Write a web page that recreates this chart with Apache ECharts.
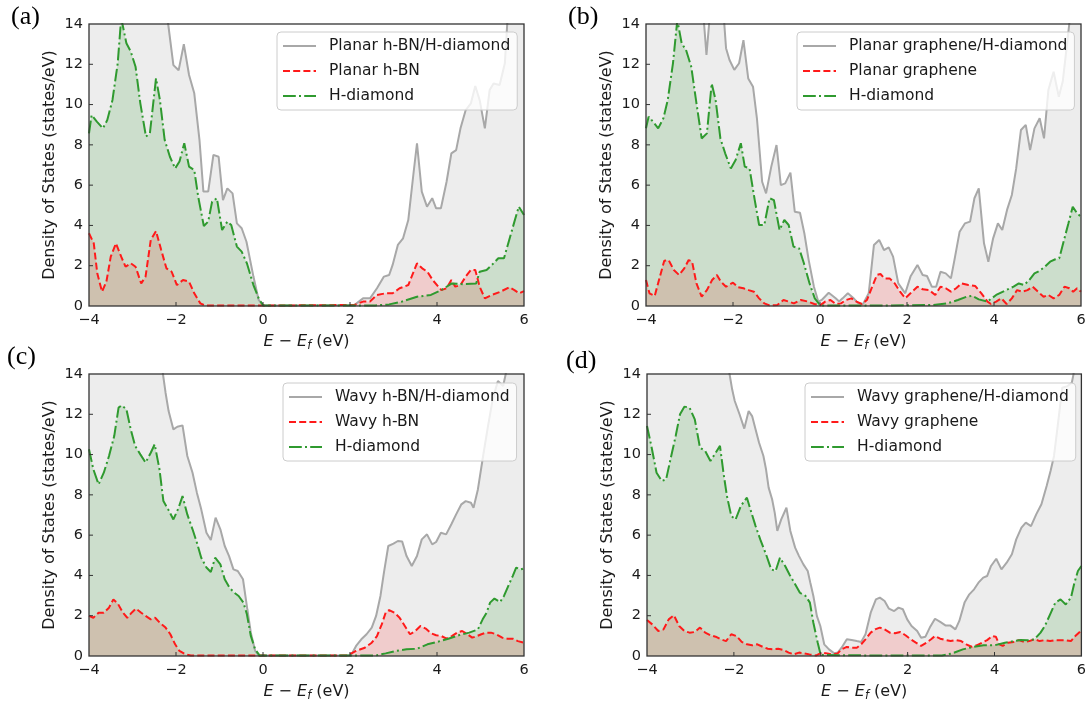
<!DOCTYPE html>
<html>
<head>
<meta charset="utf-8">
<title>Density of States</title>
<script src="https://cdn.jsdelivr.net/npm/echarts@6/dist/echarts.min.js"></script>
<style>
  html, body { margin: 0; padding: 0; background: #ffffff; }
  #wrap { position: relative; width: 1089px; height: 704px; }
  #chart { width: 1089px; height: 704px; }
  #frames { position: absolute; left: 0; top: 0; pointer-events: none; }
</style>
</head>
<body>
<div id="wrap">
  <div id="chart"></div>
  <svg id="frames" width="1089" height="704" xmlns="http://www.w3.org/2000/svg"></svg>
</div>
<script>
// Energy axis and DOS axis ticks
const energyTicks = [-4, -2, 0, 2, 4, 6];
const dosTicks = [0, 2, 4, 6, 8, 10, 12, 14];

// Panel labels and legend names
const panelLetters = ['(a)', '(b)', '(c)', '(d)'];
const totalNames = ['Planar h-BN/H-diamond', 'Planar graphene/H-diamond', 'Wavy h-BN/H-diamond', 'Wavy graphene/H-diamond'];
const layerNames = ['Planar h-BN', 'Planar graphene', 'Wavy h-BN', 'Wavy graphene'];
const diamondName = 'H-diamond';

// ---- (a) planar h-BN on H-diamond: [E - Ef (eV), DOS (states/eV)]
const aTotal = [[-4,17.5],[-3.6,19],[-3.2,21],[-2.8,19],[-2.4,16],[-2.18,14.0],[-2.06,11.96],[-1.94,11.7],[-1.82,13.0],[-1.70,11.47],[-1.58,10.56],[-1.46,8.24],[-1.37,5.68],[-1.26,5.68],[-1.14,7.5],[-1.02,7.41],[-0.92,5.26],[-0.82,5.84],[-0.70,5.59],[-0.60,4.1],[-0.49,3.86],[-0.38,3.19],[-0.22,1.46],[-0.10,0.3],[0,0.03],[1,0.02],[2.1,0.05],[2.3,0.38],[2.46,0.38],[2.62,0.88],[2.78,1.46],[2.9,1.54],[2.98,2.04],[3.1,3.03],[3.22,3.36],[3.34,4.27],[3.46,6.59],[3.54,8.08],[3.65,5.68],[3.77,4.93],[3.89,5.35],[3.98,4.85],[4.09,4.85],[4.22,6.17],[4.33,7.58],[4.44,7.74],[4.54,8.82],[4.66,9.73],[4.78,10.06],[4.88,10.92],[4.98,10.23],[5.10,8.82],[5.21,10.72],[5.30,11.05],[5.44,10.97],[5.56,12.05],[5.62,14.2],[5.8,16],[6,17]];
const aLayer = [[-4,3.61],[-3.89,3.11],[-3.81,1.62],[-3.70,0.71],[-3.60,1.21],[-3.50,2.45],[-3.38,3.11],[-3.26,2.45],[-3.16,1.95],[-3.04,2.12],[-2.93,1.95],[-2.80,1.12],[-2.70,1.46],[-2.58,3.28],[-2.46,3.72],[-2.34,2.78],[-2.22,1.87],[-2.10,1.70],[-1.98,1.04],[-1.84,1.29],[-1.70,1.21],[-1.58,0.63],[-1.44,0.13],[-1.34,0.03],[0,0.02],[2.1,0.05],[2.3,0.22],[2.46,0.22],[2.62,0.55],[2.82,0.63],[2.98,0.63],[3.14,0.88],[3.34,1.04],[3.54,2.12],[3.66,1.87],[3.78,1.70],[3.90,1.29],[4.10,0.79],[4.22,0.88],[4.33,1.29],[4.42,0.96],[4.54,1.04],[4.66,1.46],[4.78,1.79],[4.88,1.79],[4.98,0.96],[5.10,0.38],[5.26,0.55],[5.46,0.71],[5.66,0.93],[5.78,0.79],[5.89,0.63],[6,0.74]];
const aDiamond = [[-4,8.57],[-3.94,9.48],[-3.82,9.15],[-3.68,8.82],[-3.58,9.23],[-3.46,10.23],[-3.34,12.05],[-3.26,14.3],[-3.14,13.04],[-3.04,12.63],[-2.93,11.88],[-2.82,10.06],[-2.69,8.41],[-2.60,8.57],[-2.46,11.3],[-2.37,10.23],[-2.26,8.24],[-2.14,7.41],[-2.02,6.83],[-1.92,7.17],[-1.81,8.08],[-1.70,6.92],[-1.58,6.75],[-1.49,5.43],[-1.36,3.97],[-1.26,4.19],[-1.17,5.18],[-1.06,5.35],[-0.94,3.77],[-0.82,4.19],[-0.73,4.02],[-0.60,2.95],[-0.49,2.70],[-0.37,2.12],[-0.22,1.04],[-0.10,0.38],[0,0.03],[1.5,0.02],[2.58,0.03],[2.9,0.08],[3.2,0.22],[3.54,0.46],[3.86,0.55],[4.1,0.79],[4.34,1.12],[4.6,1.08],[4.9,1.12],[4.98,1.7],[5.14,1.79],[5.3,2.12],[5.41,2.37],[5.54,2.37],[5.66,3.28],[5.78,4.19],[5.88,4.93],[6,4.52]];

// ---- (b) planar graphene on H-diamond
const bTotal = [[-4,17],[-3.5,19],[-3,18.5],[-2.7,15],[-2.61,12.46],[-2.53,14.5],[-2.4,16],[-2.22,14.6],[-2.16,12.8],[-2.08,12.21],[-1.97,11.72],[-1.86,12.05],[-1.76,13.2],[-1.65,11.3],[-1.54,10.89],[-1.45,9.32],[-1.33,6.17],[-1.24,5.59],[-1.12,6.92],[-1.0,7.99],[-0.90,6.0],[-0.80,6.09],[-0.68,6.62],[-0.58,4.68],[-0.46,4.63],[-0.36,3.61],[-0.26,2.28],[-0.14,0.96],[-0.04,0.22],[0.04,0.30],[0.20,0.66],[0.36,0.38],[0.44,0.22],[0.52,0.38],[0.64,0.63],[0.76,0.41],[0.88,0.13],[0.99,0.10],[1.12,0.63],[1.24,3.03],[1.36,3.28],[1.47,2.78],[1.58,2.91],[1.68,2.45],[1.80,1.12],[1.96,0.63],[2.08,1.46],[2.24,2.04],[2.36,1.54],[2.46,1.49],[2.57,0.96],[2.67,0.96],[2.77,1.70],[2.89,1.62],[3.01,1.37],[3.09,2.28],[3.21,3.69],[3.33,4.10],[3.45,4.19],[3.55,5.35],[3.65,5.84],[3.77,3.11],[3.87,2.20],[3.98,3.36],[4.09,4.10],[4.19,3.77],[4.30,4.77],[4.41,5.51],[4.51,6.83],[4.62,8.74],[4.73,8.99],[4.83,7.74],[4.93,8.82],[5.05,9.32],[5.15,8.32],[5.25,10.72],[5.37,11.63],[5.49,10.39],[5.58,11.14],[5.65,12.46],[5.73,14.0],[5.85,16],[6,17]];
const bLayer = [[-4,1.29],[-3.92,0.63],[-3.80,0.50],[-3.68,1.46],[-3.58,2.25],[-3.48,2.28],[-3.36,1.79],[-3.24,1.54],[-3.12,1.87],[-3.02,2.28],[-2.94,2.20],[-2.84,1.12],[-2.72,0.46],[-2.60,0.79],[-2.48,1.29],[-2.37,1.54],[-2.28,1.21],[-2.16,0.96],[-2.0,1.16],[-1.88,0.93],[-1.76,0.88],[-1.64,0.79],[-1.52,0.71],[-1.40,0.38],[-1.28,0.13],[-1.16,0.03],[-0.98,0.05],[-0.84,0.30],[-0.72,0.22],[-0.60,0.13],[-0.44,0.30],[-0.28,0.22],[-0.13,0.10],[0,0.03],[0.12,0.22],[0.24,0.30],[0.36,0.10],[0.48,0.13],[0.60,0.30],[0.72,0.38],[0.84,0.22],[0.96,0.10],[1.08,0.30],[1.20,0.96],[1.31,1.54],[1.39,1.59],[1.48,1.37],[1.60,1.37],[1.72,1.12],[1.84,0.71],[1.96,0.38],[2.08,0.63],[2.24,0.96],[2.36,0.83],[2.51,0.79],[2.65,0.55],[2.77,0.96],[2.89,0.88],[3.01,0.71],[3.13,0.88],[3.25,1.12],[3.41,1.04],[3.57,0.99],[3.71,0.63],[3.85,0.22],[3.93,0.10],[4.05,0.22],[4.17,0.38],[4.29,0.10],[4.41,0.38],[4.53,0.79],[4.65,0.71],[4.77,0.79],[4.89,0.96],[5.01,0.71],[5.14,0.46],[5.25,0.55],[5.37,0.38],[5.50,0.55],[5.62,0.96],[5.73,0.88],[5.82,0.71],[5.91,0.88],[6,0.71]];
const bDiamond = [[-4,8.82],[-3.94,9.40],[-3.84,9.15],[-3.72,8.82],[-3.60,9.32],[-3.50,10.23],[-3.38,12.05],[-3.28,14.2],[-3.18,13.04],[-3.08,12.71],[-2.96,11.88],[-2.84,10.06],[-2.72,8.32],[-2.60,8.57],[-2.49,11.05],[-2.40,10.23],[-2.29,8.32],[-2.18,7.58],[-2.05,6.83],[-1.94,7.25],[-1.82,8.08],[-1.73,6.92],[-1.62,6.83],[-1.50,5.26],[-1.40,4.02],[-1.28,4.02],[-1.16,5.35],[-1.06,5.26],[-0.93,3.77],[-0.82,4.27],[-0.72,4.02],[-0.61,2.95],[-0.48,2.86],[-0.37,2.12],[-0.24,1.12],[-0.12,0.38],[-0.02,0.1],[0.04,0.03],[1.5,0.02],[2.6,0.05],[2.93,0.13],[3.17,0.3],[3.37,0.46],[3.5,0.51],[3.65,0.33],[3.85,0.22],[4.05,0.55],[4.25,0.76],[4.45,0.96],[4.57,1.12],[4.69,1.04],[4.81,1.29],[4.93,1.62],[5.05,1.75],[5.17,1.95],[5.29,2.20],[5.41,2.32],[5.50,2.37],[5.61,3.28],[5.71,4.10],[5.81,4.93],[5.91,4.60],[6,4.43]];

// ---- (c) wavy h-BN on H-diamond
const cTotal = [[-4,19],[-3.5,21],[-3,20],[-2.6,17],[-2.36,14.8],[-2.30,14.0],[-2.24,13.07],[-2.17,12.16],[-2.06,11.25],[-1.97,11.38],[-1.85,11.45],[-1.74,9.93],[-1.62,9.10],[-1.52,8.11],[-1.42,7.28],[-1.30,6.12],[-1.20,5.76],[-1.09,6.87],[-0.98,6.29],[-0.88,5.46],[-0.78,4.96],[-0.68,4.30],[-0.58,4.22],[-0.46,3.81],[-0.36,2.32],[-0.28,1.16],[-0.18,0.25],[-0.10,0.03],[0,0.02],[2.02,0.03],[2.14,0.50],[2.26,0.83],[2.38,1.08],[2.50,1.41],[2.60,1.99],[2.70,2.98],[2.78,4.14],[2.88,5.46],[3.00,5.58],[3.10,5.71],[3.20,5.68],[3.30,4.96],[3.42,4.47],[3.54,4.96],[3.65,5.79],[3.77,6.04],[3.89,5.54],[3.98,5.66],[4.09,6.12],[4.21,6.04],[4.33,6.54],[4.44,7.03],[4.56,7.53],[4.66,7.69],[4.78,7.61],[4.84,7.36],[4.94,8.27],[5.06,9.93],[5.16,11.25],[5.28,12.74],[5.40,13.65],[5.52,13.40],[5.58,14.0],[5.8,16.5],[6,18]];
const cLayer = [[-4,1.99],[-3.90,1.90],[-3.78,2.15],[-3.66,2.15],[-3.54,2.40],[-3.44,2.81],[-3.34,2.61],[-3.22,2.15],[-3.12,1.90],[-3.02,2.15],[-2.92,2.35],[-2.80,2.15],[-2.70,1.99],[-2.58,1.82],[-2.48,1.90],[-2.37,1.65],[-2.24,1.41],[-2.13,1.08],[-2.02,0.58],[-1.92,0.25],[-1.78,0.08],[-1.66,0.02],[0,0.02],[1.94,0.03],[2.14,0.25],[2.34,0.41],[2.50,0.66],[2.62,0.99],[2.73,1.57],[2.82,2.15],[2.90,2.28],[3.02,2.15],[3.14,1.90],[3.26,1.49],[3.38,1.08],[3.50,1.24],[3.62,1.49],[3.74,1.36],[3.86,1.13],[3.98,1.03],[4.10,0.99],[4.22,0.86],[4.34,0.99],[4.46,1.16],[4.58,1.24],[4.70,1.08],[4.81,0.91],[4.92,0.99],[5.02,1.08],[5.13,1.16],[5.24,1.16],[5.36,1.08],[5.50,0.91],[5.62,0.86],[5.74,0.86],[5.86,0.74],[6,0.66]];
const cDiamond = [[-4,10.26],[-3.90,9.27],[-3.78,8.52],[-3.66,9.10],[-3.54,9.93],[-3.42,10.92],[-3.32,12.33],[-3.25,12.44],[-3.14,12.25],[-3.04,11.25],[-2.94,10.43],[-2.82,10.01],[-2.70,9.60],[-2.58,10.09],[-2.49,10.51],[-2.38,9.27],[-2.29,7.69],[-2.18,7.28],[-2.06,6.78],[-1.94,7.36],[-1.85,7.94],[-1.74,7.03],[-1.62,6.29],[-1.52,5.63],[-1.42,4.88],[-1.30,4.39],[-1.20,4.17],[-1.10,4.88],[-0.98,4.55],[-0.88,3.81],[-0.77,3.39],[-0.66,3.14],[-0.56,2.98],[-0.45,2.65],[-0.37,2.07],[-0.28,0.99],[-0.18,0.33],[-0.08,0.03],[0,0.02],[2.58,0.02],[2.82,0.13],[3.06,0.25],[3.30,0.33],[3.54,0.36],[3.78,0.58],[4.02,0.71],[4.26,0.86],[4.50,1.03],[4.74,1.16],[4.94,1.32],[5.05,1.82],[5.14,2.15],[5.22,2.65],[5.32,2.85],[5.45,2.68],[5.54,2.98],[5.64,3.48],[5.74,3.97],[5.82,4.39],[5.92,4.30],[6,4.35]];

// ---- (d) wavy graphene on H-diamond
const dTotal = [[-4,19],[-3.5,21],[-3,20],[-2.5,16.5],[-2.16,14.8],[-2.10,14.0],[-2.04,13.24],[-1.98,12.66],[-1.87,12.0],[-1.76,11.29],[-1.66,12.16],[-1.58,11.91],[-1.50,11.25],[-1.42,10.59],[-1.32,9.93],[-1.26,9.27],[-1.20,8.36],[-1.12,7.78],[-1.06,7.12],[-1.00,6.21],[-0.91,6.78],[-0.79,7.36],[-0.70,6.21],[-0.59,5.38],[-0.50,4.96],[-0.40,4.55],[-0.30,4.22],[-0.24,3.64],[-0.17,2.98],[-0.09,1.99],[-0.01,1.49],[0.08,0.58],[0.19,0.33],[0.31,0.13],[0.39,0.17],[0.48,0.41],[0.60,0.83],[0.71,0.79],[0.83,0.74],[0.93,0.70],[1.03,1.08],[1.15,2.15],[1.27,2.81],[1.36,2.90],[1.47,2.73],[1.57,2.35],[1.69,2.23],[1.79,2.40],[1.89,2.32],[1.99,1.82],[2.09,1.49],[2.22,1.24],[2.31,0.91],[2.41,0.96],[2.51,1.41],[2.63,1.85],[2.75,1.69],[2.87,1.52],[2.98,1.52],[3.10,1.32],[3.19,1.74],[3.31,2.65],[3.42,3.06],[3.53,3.31],[3.63,3.64],[3.74,3.89],[3.83,3.97],[3.92,4.47],[4.04,4.83],[4.16,4.30],[4.28,4.63],[4.40,5.05],[4.50,5.79],[4.62,6.37],[4.72,6.62],[4.84,6.45],[4.96,7.03],[5.08,7.53],[5.20,8.44],[5.29,9.18],[5.37,9.93],[5.45,11.34],[5.56,13.32],[5.68,13.40],[5.78,13.57],[5.82,14.0],[5.9,15.5],[6,16.5]];
const dLayer = [[-4,1.79],[-3.88,1.57],[-3.74,1.24],[-3.62,1.32],[-3.50,1.82],[-3.38,2.02],[-3.26,1.49],[-3.14,1.24],[-3.02,1.16],[-2.90,1.19],[-2.78,1.41],[-2.66,1.16],[-2.54,1.03],[-2.42,0.96],[-2.30,0.83],[-2.18,0.74],[-2.06,1.08],[-1.94,0.99],[-1.82,0.70],[-1.70,0.58],[-1.58,0.53],[-1.46,0.58],[-1.34,0.46],[-1.22,0.36],[-1.10,0.33],[-0.98,0.36],[-0.86,0.30],[-0.74,0.17],[-0.62,0.08],[-0.50,0.17],[-0.38,0.13],[-0.26,0.08],[-0.10,0.03],[0.02,0.17],[0.15,0.13],[0.27,0.08],[0.39,0.13],[0.48,0.33],[0.60,0.45],[0.72,0.41],[0.83,0.41],[0.93,0.58],[1.03,0.83],[1.15,1.16],[1.25,1.32],[1.36,1.41],[1.47,1.32],[1.59,1.16],[1.71,1.13],[1.83,1.19],[1.95,1.03],[2.07,0.83],[2.19,0.66],[2.31,0.50],[2.43,0.66],[2.54,0.83],[2.63,0.99],[2.75,0.86],[2.87,0.79],[2.99,0.74],[3.11,0.79],[3.23,0.74],[3.35,0.58],[3.47,0.46],[3.59,0.53],[3.71,0.66],[3.83,0.79],[3.95,0.99],[4.03,0.96],[4.11,0.58],[4.19,0.50],[4.31,0.66],[4.44,0.70],[4.56,0.79],[4.68,0.70],[4.80,0.74],[4.92,0.83],[5.04,0.74],[5.16,0.79],[5.28,0.74],[5.40,0.79],[5.52,0.78],[5.64,0.78],[5.76,0.74],[5.86,0.99],[6,1.27]];
const dDiamond = [[-4,11.42],[-3.90,10.43],[-3.78,9.10],[-3.66,8.69],[-3.56,8.77],[-3.46,9.76],[-3.34,10.92],[-3.24,12.0],[-3.14,12.38],[-3.02,12.33],[-2.90,11.75],[-2.78,10.34],[-2.66,10.18],[-2.54,9.68],[-2.42,10.09],[-2.32,10.43],[-2.24,9.10],[-2.16,7.94],[-2.06,6.95],[-1.96,6.78],[-1.84,7.45],[-1.70,7.86],[-1.62,7.28],[-1.50,6.45],[-1.38,5.71],[-1.26,5.05],[-1.14,4.30],[-1.04,4.22],[-0.94,4.88],[-0.82,4.47],[-0.72,4.05],[-0.59,3.56],[-0.48,3.14],[-0.35,2.98],[-0.25,2.65],[-0.17,1.65],[-0.07,0.66],[0,0.05],[1.5,0.02],[2.79,0.03],[3.03,0.13],[3.27,0.33],[3.51,0.45],[3.75,0.53],[4.0,0.53],[4.24,0.66],[4.44,0.74],[4.60,0.79],[4.76,0.78],[4.92,0.83],[5.06,1.16],[5.16,1.49],[5.28,2.07],[5.40,2.65],[5.52,2.81],[5.64,2.56],[5.76,2.90],[5.84,3.64],[5.92,4.22],[6,4.47]];

const totals = [aTotal, bTotal, cTotal, dTotal];
const layers = [aLayer, bLayer, cLayer, dLayer];
const diamonds = [aDiamond, bDiamond, cDiamond, dDiamond];

// ---- Layout (pixels)
const gridBoxes = [
  { left: 89, top: 24, width: 435, height: 282 },
  { left: 646, top: 24, width: 435, height: 282 },
  { left: 89, top: 374, width: 435, height: 282 },
  { left: 647, top: 374, width: 435, height: 282 }
];
const legendBoxes = [
  { left: 277, top: 32 },
  { left: 797, top: 32 },
  { left: 283, top: 383 },
  { left: 805, top: 383 }
];
const letterPos = [[11, 4], [568, 4], [7, 344], [566, 348]];
const TICK_PX = 4;

// ---- Styles
const FONT = 'DejaVu Sans';
const TEXT = '#1a1a1a';
const AXIS = '#333333';
const styles = {
  total:   { line: '#a8a8a8', fill: 'rgba(128,128,128,0.2)', type: 'solid' },
  layer:   { line: '#ff1a1a', fill: 'rgba(255,0,0,0.2)', type: [7, 3.2] },
  diamond: { line: '#2f9a2f', fill: 'rgba(0,128,0,0.2)', type: [12.8, 3.2, 2, 3.2] }
};
const minus = v => String(v).replace('-', '\u2212');

const xMin = energyTicks[0], xMax = energyTicks[energyTicks.length - 1];
const yMin = dosTicks[0], yMax = dosTicks[dosTicks.length - 1];

const grids = [], xAxes = [], yAxes = [], series = [], legends = [];

gridBoxes.forEach((g, i) => {
  grids.push(Object.assign({}, g));

  xAxes.push({
    type: 'value', gridIndex: i,
    min: xMin, max: xMax, interval: 2,
    axisLine: { show: false, onZero: false },
    axisTick: { show: false },
    splitLine: { show: false },
    axisLabel: { fontSize: 14.5, fontFamily: FONT, color: TEXT, margin: 7, formatter: minus },
    name: '{i|E} \u2212 {i|E}{s|f} (eV)',
    nameLocation: 'middle', nameGap: 25,
    nameTextStyle: {
      fontSize: 16, fontFamily: FONT, color: TEXT, lineHeight: 21,
      rich: {
        i: { fontStyle: 'italic', fontSize: 16, fontFamily: FONT, color: TEXT, lineHeight: 21 },
        s: { fontStyle: 'italic', fontSize: 11.5, fontFamily: FONT, color: TEXT, verticalAlign: 'bottom', lineHeight: 12 }
      }
    }
  });

  yAxes.push({
    type: 'value', gridIndex: i,
    min: yMin, max: yMax, interval: 2,
    axisLine: { show: false, onZero: false },
    axisTick: { show: false },
    splitLine: { show: false },
    axisLabel: { fontSize: 14.5, fontFamily: FONT, color: TEXT, margin: 6 },
    name: 'Density of States (states/eV)',
    nameLocation: 'middle', nameGap: 31,
    nameTextStyle: { fontSize: 16, fontFamily: FONT, color: TEXT }
  });

  const curves = [
    ['total', totalNames[i], totals[i]],
    ['layer', layerNames[i], layers[i]],
    ['diamond', diamondName, diamonds[i]]
  ];

  // shaded areas first: total, layer, diamond
  curves.forEach(([k, name, data]) => {
    series.push({
      type: 'line', name: name + ' (area)', xAxisIndex: i, yAxisIndex: i,
      data: data, showSymbol: false, symbol: 'none', z: 1, silent: true,
      lineStyle: { width: 0 },
      areaStyle: { color: styles[k].fill, origin: 0 }
    });
  });
  // outlines on top
  curves.forEach(([k, name, data]) => {
    series.push({
      type: 'line', name: name, xAxisIndex: i, yAxisIndex: i,
      data: data, showSymbol: false, symbol: 'none', z: 3,
      lineStyle: { color: styles[k].line, width: 2, type: styles[k].type },
      itemStyle: { color: styles[k].line }
    });
  });

  legends.push({
    orient: 'vertical', left: legendBoxes[i].left, top: legendBoxes[i].top,
    data: [totalNames[i], layerNames[i], diamondName],
    selectedMode: false,
    itemWidth: 33, itemHeight: 14, itemGap: 9,
    padding: [6, 7, 6, 5],
    backgroundColor: 'rgba(255,255,255,0.8)',
    borderColor: '#cccccc', borderWidth: 1, borderRadius: 4,
    itemStyle: { color: 'rgba(0,0,0,0)', borderWidth: 0, opacity: 0 },
    textStyle: { fontSize: 15.5, fontFamily: FONT, color: TEXT, padding: [0, 0, 0, 8] }
  });
});

const letters = panelLetters.map((t, i) => ({
  type: 'text', left: letterPos[i][0], top: letterPos[i][1], z: 10,
  style: { text: t, fontSize: 26, fontFamily: 'Liberation Serif', fill: '#000' }
}));

const chart = echarts.init(document.getElementById('chart'));
chart.setOption({
  animation: false,
  grid: grids,
  xAxis: xAxes,
  yAxis: yAxes,
  legend: legends,
  series: series,
  graphic: letters
});

// Axes box and inward ticks, placed through each grid's own scales
const SVG_NS = 'http://www.w3.org/2000/svg';
const svg = document.getElementById('frames');
function svgLine(x1, y1, x2, y2, w) {
  const el = document.createElementNS(SVG_NS, 'line');
  el.setAttribute('x1', x1); el.setAttribute('y1', y1);
  el.setAttribute('x2', x2); el.setAttribute('y2', y2);
  el.setAttribute('stroke', AXIS); el.setAttribute('stroke-width', w);
  svg.appendChild(el);
}
gridBoxes.forEach((g, i) => {
  const tl = chart.convertToPixel({ gridIndex: i }, [xMin, yMax]);
  const br = chart.convertToPixel({ gridIndex: i }, [xMax, yMin]);
  const box = document.createElementNS(SVG_NS, 'rect');
  box.setAttribute('x', tl[0]); box.setAttribute('y', tl[1]);
  box.setAttribute('width', br[0] - tl[0]); box.setAttribute('height', br[1] - tl[1]);
  box.setAttribute('fill', 'none'); box.setAttribute('stroke', AXIS); box.setAttribute('stroke-width', 1.3);
  svg.appendChild(box);
  dosTicks.slice(1, -1).forEach(v => {
    const p = chart.convertToPixel({ gridIndex: i }, [xMin, v]);
    svgLine(p[0], p[1], p[0] + TICK_PX, p[1], 1);
  });
  energyTicks.slice(1, -1).forEach(v => {
    const p = chart.convertToPixel({ gridIndex: i }, [v, yMin]);
    svgLine(p[0], p[1], p[0], p[1] - TICK_PX, 1);
  });
});
</script>
</body>
</html>
